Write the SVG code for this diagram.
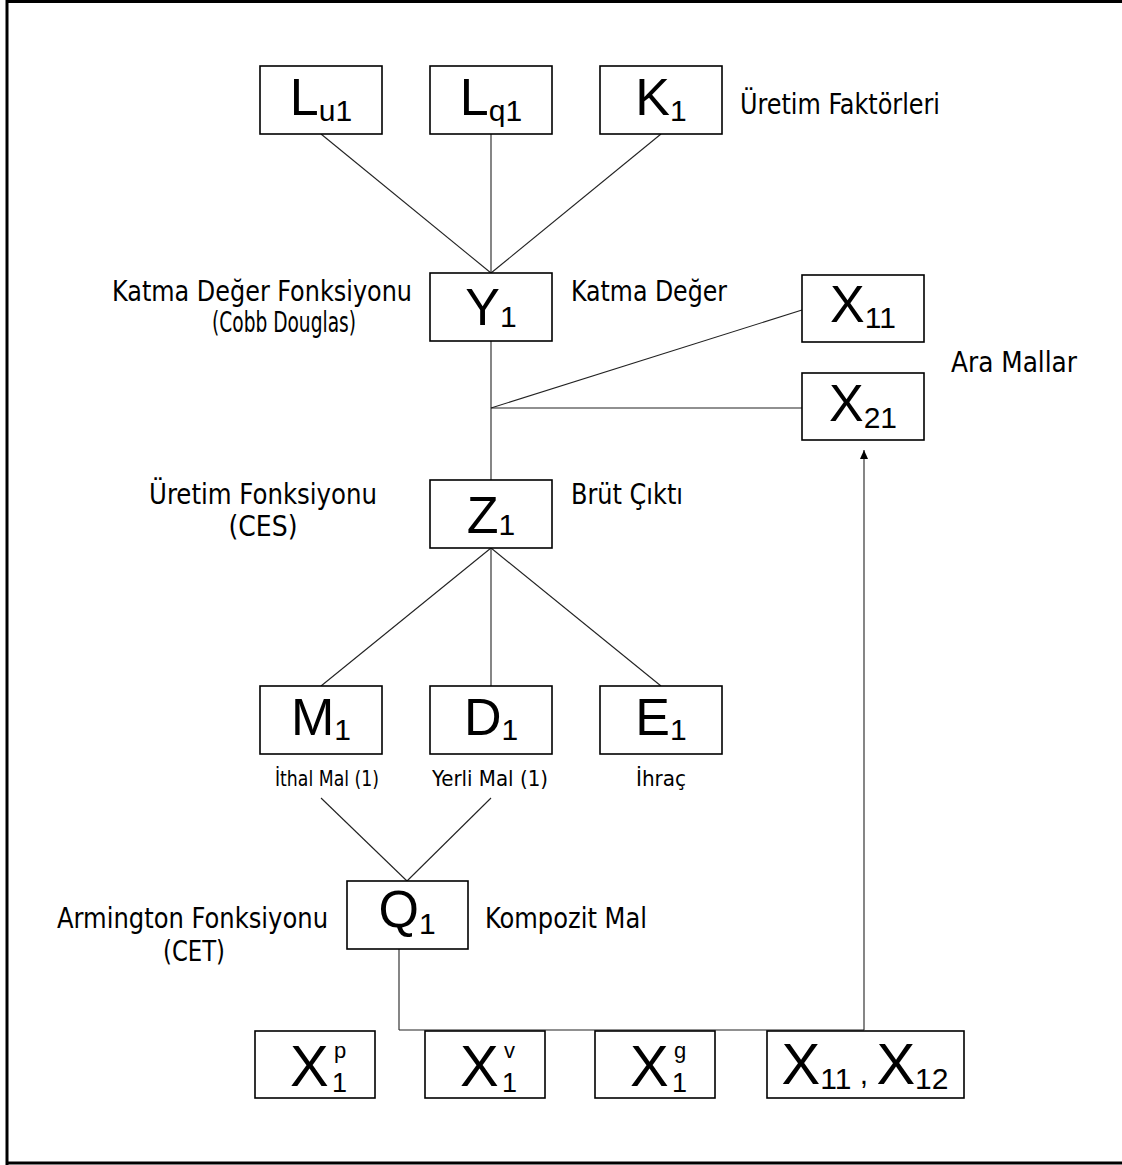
<svg xmlns="http://www.w3.org/2000/svg" width="1122" height="1165" viewBox="0 0 1122 1165">
<defs>
<style>
.box{fill:#fff;stroke:#000;stroke-width:1.6}
.ln{stroke:#222;stroke-width:1.1;fill:none}
.big{font-family:"Liberation Sans",Arial,sans-serif;font-size:52px;fill:#000}
.bigx{font-family:"Liberation Sans",Arial,sans-serif;font-size:58px;fill:#000}
.sub{font-size:30px}
.sup{font-family:"Liberation Sans",Arial,sans-serif;font-size:22px;fill:#000}
.sb{font-family:"Liberation Sans",Arial,sans-serif;font-size:27px;fill:#000}
.lab{font-family:"DejaVu Sans Condensed","Liberation Sans",sans-serif;font-size:28px;fill:#000}
.sm{font-family:"DejaVu Sans Condensed","Liberation Sans",sans-serif;font-size:22px;fill:#000}
</style>
<marker id="ah" markerWidth="10" markerHeight="10" refX="9" refY="5" orient="auto" markerUnits="userSpaceOnUse">
<path d="M0,1 L9,5 L0,9 Z" fill="#000"/>
</marker>
</defs>
<rect width="1122" height="1165" fill="#fff"/>
<path d="M7,1165 V1.5 H1122 M7,1163 H1122" fill="none" stroke="#000" stroke-width="3"/>

<g id="connectors">
<line class="ln" x1="321" y1="134" x2="491" y2="273"/>
<line class="ln" x1="491" y1="134" x2="491" y2="273"/>
<line class="ln" x1="661" y1="134" x2="491" y2="273"/>
<line class="ln" x1="491" y1="341" x2="491" y2="480"/>
<line class="ln" x1="491" y1="408" x2="802" y2="310"/>
<line class="ln" x1="491" y1="408" x2="802" y2="408"/>
<line class="ln" x1="491" y1="548" x2="321" y2="686"/>
<line class="ln" x1="491" y1="548" x2="491" y2="686"/>
<line class="ln" x1="491" y1="548" x2="661" y2="686"/>
<line class="ln" x1="321" y1="798" x2="407" y2="881"/>
<line class="ln" x1="491" y1="798" x2="407" y2="881"/>
<line class="ln" x1="399" y1="949" x2="399" y2="1030"/>
<line class="ln" x1="399" y1="1030" x2="864" y2="1030"/>
<line class="ln" x1="864" y1="1030" x2="864" y2="450" marker-end="url(#ah)"/>
</g>

<g id="Lu1"><rect class="box" x="260" y="66" width="122" height="68"/><text class="big" x="321" y="115" text-anchor="middle">L<tspan class="sub" dy="6">u1</tspan></text></g>
<g id="Lq1"><rect class="box" x="430" y="66" width="122" height="68"/><text class="big" x="491" y="115" text-anchor="middle">L<tspan class="sub" dy="6">q1</tspan></text></g>
<g id="K1"><rect class="box" x="600" y="66" width="122" height="68"/><text class="big" x="661" y="115" text-anchor="middle">K<tspan class="sub" dy="6">1</tspan></text></g>
<text class="lab" x="740" y="114" textLength="200" lengthAdjust="spacingAndGlyphs">Üretim Faktörleri</text>

<g id="Y1"><rect class="box" x="430" y="273" width="122" height="68"/><text class="big" x="491" y="325" text-anchor="middle">Y<tspan class="sub" dy="2">1</tspan></text></g>
<text class="lab" x="412" y="301" text-anchor="end" textLength="300" lengthAdjust="spacingAndGlyphs">Katma Değer Fonksiyonu</text>
<text class="lab" x="284" y="332" text-anchor="middle" textLength="144" lengthAdjust="spacingAndGlyphs">(Cobb Douglas)</text>
<text class="lab" x="571" y="301" textLength="156" lengthAdjust="spacingAndGlyphs">Katma Değer</text>

<g id="X11"><rect class="box" x="802" y="275" width="122" height="67"/><text class="big" x="863" y="322" text-anchor="middle">X<tspan class="sub" dy="6">11</tspan></text></g>
<g id="X21"><rect class="box" x="802" y="373" width="122" height="67"/><text class="big" x="863" y="421" text-anchor="middle">X<tspan class="sub" dy="7">21</tspan></text></g>
<text class="lab" x="951" y="372" textLength="126" lengthAdjust="spacingAndGlyphs">Ara Mallar</text>

<g id="Z1"><rect class="box" x="430" y="480" width="122" height="68"/><text class="big" x="491" y="533" text-anchor="middle">Z<tspan class="sub" dy="2">1</tspan></text></g>
<text class="lab" x="377" y="504" text-anchor="end" textLength="228" lengthAdjust="spacingAndGlyphs">Üretim Fonksiyonu</text>
<text class="lab" x="263" y="536" text-anchor="middle" textLength="69" lengthAdjust="spacingAndGlyphs">(CES)</text>
<text class="lab" x="571" y="504" textLength="112" lengthAdjust="spacingAndGlyphs">Brüt Çıktı</text>

<g id="M1"><rect class="box" x="260" y="686" width="122" height="68"/><text class="big" x="321" y="735" text-anchor="middle">M<tspan class="sub" dy="5">1</tspan></text>
<text class="sm" x="327" y="786" text-anchor="middle" textLength="104" lengthAdjust="spacingAndGlyphs">İthal Mal (1)</text></g>
<g id="D1"><rect class="box" x="430" y="686" width="122" height="68"/><text class="big" x="491" y="735" text-anchor="middle">D<tspan class="sub" dy="5">1</tspan></text>
<text class="sm" x="490" y="786" text-anchor="middle" textLength="116" lengthAdjust="spacingAndGlyphs">Yerli Mal (1)</text></g>
<g id="E1"><rect class="box" x="600" y="686" width="122" height="68"/><text class="big" x="661" y="735" text-anchor="middle">E<tspan class="sub" dy="5">1</tspan></text>
<text class="sm" x="661" y="786" text-anchor="middle" textLength="50" lengthAdjust="spacingAndGlyphs">İhraç</text></g>

<g id="Q1"><rect class="box" x="347" y="881" width="121" height="68"/><text class="big" x="407" y="927" text-anchor="middle">Q<tspan class="sub" dy="7">1</tspan></text></g>
<text class="lab" x="328" y="928" text-anchor="end" textLength="271" lengthAdjust="spacingAndGlyphs">Armington Fonksiyonu</text>
<text class="lab" x="194" y="961" text-anchor="middle" textLength="62" lengthAdjust="spacingAndGlyphs">(CET)</text>
<text class="lab" x="485" y="928" textLength="162" lengthAdjust="spacingAndGlyphs">Kompozit Mal</text>

<g id="Xp"><rect class="box" x="255" y="1031" width="120" height="67"/><text class="bigx" x="290" y="1086">X</text><text class="sup" x="334" y="1058">p</text><text class="sb" x="332" y="1092">1</text></g>
<g id="Xv"><rect class="box" x="425" y="1031" width="120" height="67"/><text class="bigx" x="460" y="1086">X</text><text class="sup" x="504" y="1058">v</text><text class="sb" x="502" y="1092">1</text></g>
<g id="Xg"><rect class="box" x="595" y="1031" width="120" height="67"/><text class="bigx" x="630" y="1086">X</text><text class="sup" x="674" y="1058">g</text><text class="sb" x="672" y="1092">1</text></g>
<g id="X1112"><rect class="box" x="767" y="1031" width="197" height="67"/><text class="bigx" x="865" y="1084" text-anchor="middle">X<tspan class="sub" dy="5">11</tspan><tspan dy="-5" font-size="30"> , </tspan>X<tspan class="sub" dy="5">12</tspan></text></g>
</svg>
